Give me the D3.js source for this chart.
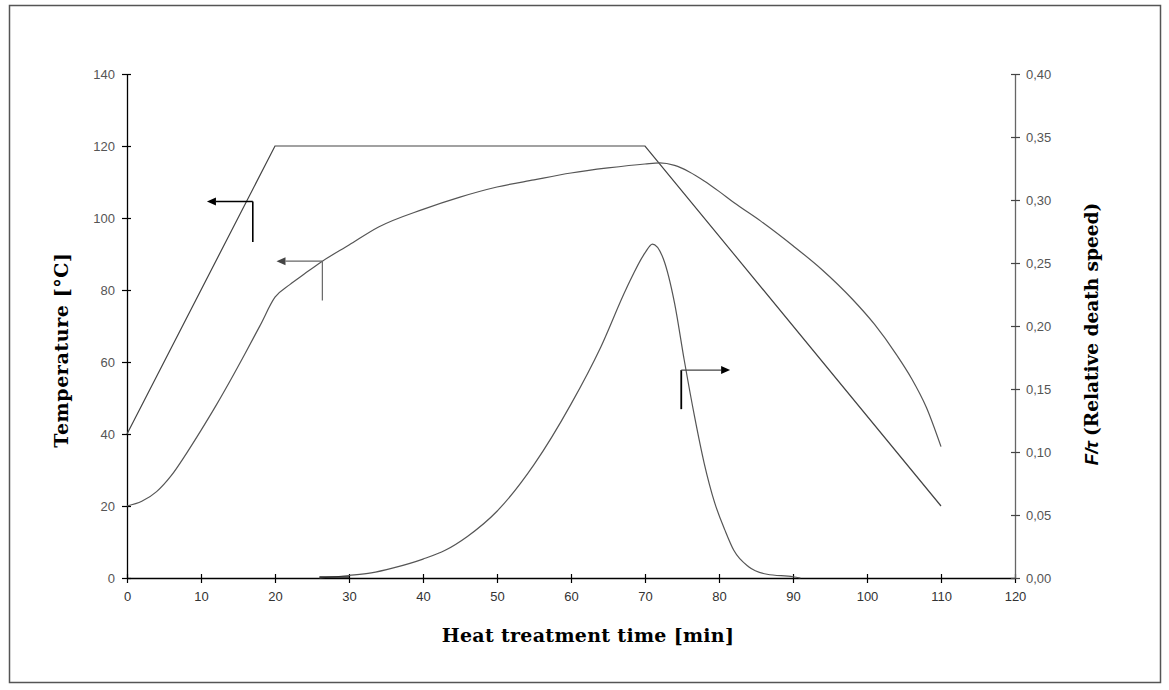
<!DOCTYPE html>
<html>
<head>
<meta charset="utf-8">
<script src="https://cdn.jsdelivr.net/npm/d3@7"></script>
<style>
  html, body { margin: 0; padding: 0; background: #fff; }
  svg { display: block; }
</style>
</head>
<body>
<svg id="chart" width="1169" height="690"></svg>
<script>
// ---- Data ----
const xTicks = [0, 10, 20, 30, 40, 50, 60, 70, 80, 90, 100, 110, 120];
const yLeftTicks = [0, 20, 40, 60, 80, 100, 120, 140];
const yRightTicks = [0, 0.05, 0.10, 0.15, 0.20, 0.25, 0.30, 0.35, 0.40];

// Retort (heating medium) temperature [°C]
const retortTime = [0, 20, 70, 110];
const retortTemp = [40, 120, 120, 20];

// Product temperature [°C]
const productTime = [0, 2, 4, 6, 8, 10, 12, 14, 16, 18, 20, 22, 24, 26.4, 30, 34, 40, 45, 50, 55, 60, 65, 70, 72, 74, 76, 78, 80, 82, 85.6, 90, 94, 98, 101, 104, 106, 108, 110];
const productTemp = [20, 21.3, 24, 28.5, 34.5, 41, 47.8, 55, 62.5, 70.2, 78, 81.5, 84.5, 88, 92.5, 97.5, 102.4, 105.8, 108.6, 110.6, 112.5, 113.9, 115, 115.3, 114.6, 112.8, 110.3, 107.4, 104.3, 99.2, 92.3, 85.5, 77.5, 70.5, 62, 55.5, 47.5, 36.5];

// F/tau (relative death speed)
const deathTime = [26, 30, 33, 36, 40, 43, 46, 50, 55, 60, 64, 67.5, 70, 71, 72.5, 74, 75.3, 76.7, 78, 79.4, 80.8, 82, 84, 86.5, 90, 91];
const deathRate = [0, 0.002, 0.004, 0.008, 0.015, 0.022, 0.033, 0.053, 0.090, 0.138, 0.183, 0.230, 0.258, 0.265, 0.253, 0.218, 0.173, 0.128, 0.091, 0.060, 0.038, 0.022, 0.009, 0.003, 0.001, 0];

// Annotation arrows
const arrowLeft1 = { axis: "left", x: 17.0, yTop: 104.6, yBottom: 93.3, tipX: 10.8, color: "#000", width: 1.6 };
const arrowLeft2 = { axis: "left", x: 26.4, yTop: 88, yBottom: 77.1, tipX: 20.2, color: "#666", width: 1.2 };
const arrowRight = { axis: "right", x: 74.9, yTop: 0.165, yBottom: 0.134, tipX: 81.5, color: "#444", width: 1.2, stemColor: "#000", stemWidth: 1.8 };

(function () {
const svg = d3.select("#chart");
const pL = 127, pR = 1015, pT = 74, pB = 578;

const x = d3.scaleLinear().domain([0, 120]).range([pL, pR]);
const yL = d3.scaleLinear().domain([0, 140]).range([pB, pT]);
const yR = d3.scaleLinear().domain([0, 0.40]).range([pB, pT]);

// outer frame
svg.append("rect")
  .attr("x", 9.5).attr("y", 5.5)
  .attr("width", 1151).attr("height", 677)
  .attr("fill", "none").attr("stroke", "#555").attr("stroke-width", 1.5);

const tickFont = "'Liberation Sans', Arial, sans-serif";

// ---- Axes ----
const gx = svg.append("g").attr("transform", `translate(0,${pB})`)
  .call(d3.axisBottom(x).tickValues(xTicks).tickSize(5).tickSizeOuter(0).tickPadding(9));
gx.select(".domain").attr("stroke", "#000").attr("stroke-width", 1.3);
gx.selectAll(".tick line").attr("y1", -4).attr("y2", 5).attr("stroke", "#000").attr("stroke-width", 1.2);
gx.selectAll(".tick text").attr("font-family", tickFont).attr("font-size", 13).attr("fill", "#333");

const gl = svg.append("g").attr("transform", `translate(${pL},0)`)
  .call(d3.axisLeft(yL).tickValues(yLeftTicks).tickSize(5).tickSizeOuter(0).tickPadding(7));
gl.select(".domain").attr("stroke", "#000").attr("stroke-width", 1.3);
gl.selectAll(".tick line").attr("x1", 4).attr("x2", -5).attr("stroke", "#000").attr("stroke-width", 1.2);
gl.selectAll(".tick text").attr("font-family", tickFont).attr("font-size", 13).attr("fill", "#555");

const commaFmt = d => d3.format(".2f")(d).replace(".", ",");
const gr = svg.append("g").attr("transform", `translate(${pR},0)`)
  .call(d3.axisRight(yR).tickValues(yRightTicks).tickFormat(commaFmt).tickSize(5).tickSizeOuter(0).tickPadding(6));
gr.select(".domain").attr("stroke", "#666").attr("stroke-width", 1.3);
gr.selectAll(".tick line").attr("x1", -4).attr("x2", 5).attr("stroke", "#444").attr("stroke-width", 1.2);
gr.selectAll(".tick text").attr("font-family", tickFont).attr("font-size", 13).attr("fill", "#555");

// ---- Lines ----
const retortLine = d3.line().x(d => x(d[0])).y(d => yL(d[1]));
svg.append("path")
  .datum(retortTime.map((t, i) => [t, retortTemp[i]]))
  .attr("d", retortLine)
  .attr("fill", "none").attr("stroke", "#444").attr("stroke-width", 1.2);

const productLine = d3.line().x(d => x(d[0])).y(d => yL(d[1])).curve(d3.curveMonotoneX);
svg.append("path")
  .datum(productTime.map((t, i) => [t, productTemp[i]]))
  .attr("d", productLine)
  .attr("fill", "none").attr("stroke", "#555").attr("stroke-width", 1.2);

const deathLine = d3.line().x(d => x(d[0])).y(d => yR(d[1])).curve(d3.curveMonotoneX);
svg.append("path")
  .datum(deathTime.map((t, i) => [t, deathRate[i]]))
  .attr("d", deathLine)
  .attr("fill", "none").attr("stroke", "#555").attr("stroke-width", 1.2);
svg.append("line")
  .attr("x1", x(deathTime[0])).attr("x2", x(deathTime[1]))
  .attr("y1", yR(0) - 1).attr("y2", yR(0) - 1)
  .attr("stroke", "#222").attr("stroke-width", 1.5);

// ---- Arrows ----
function drawArrow(a) {
  const ys = a.axis === "left" ? yL : yR;
  const sx = x(a.x), y1 = ys(a.yTop), y2 = ys(a.yBottom), tx = x(a.tipX);
  svg.append("line").attr("x1", sx).attr("x2", sx).attr("y1", y1).attr("y2", y2)
    .attr("stroke", a.stemColor || a.color).attr("stroke-width", a.stemWidth || a.width);
  const dir = tx < sx ? -1 : 1;
  const headLen = 9, headHalf = 4;
  svg.append("line").attr("x1", sx).attr("x2", tx - dir * headLen).attr("y1", y1).attr("y2", y1)
    .attr("stroke", a.color).attr("stroke-width", a.width);
  svg.append("path")
    .attr("d", `M${tx},${y1} L${tx - dir * headLen},${y1 - headHalf} L${tx - dir * headLen},${y1 + headHalf} Z`)
    .attr("fill", a.color === "#666" ? "#444" : "#000");
}
drawArrow(arrowLeft1);
drawArrow(arrowLeft2);
drawArrow(arrowRight);

// ---- Axis titles ----
const titleFont = "'DejaVu Serif', 'Liberation Serif', serif";
svg.append("text")
  .attr("transform", `translate(68,350) rotate(-90)`)
  .attr("text-anchor", "middle")
  .attr("font-family", titleFont).attr("font-weight", "bold").attr("font-size", 19)
  .attr("letter-spacing", 0.6)
  .attr("fill", "#000")
  .text("Temperature [°C]");

svg.append("text")
  .attr("x", 588).attr("y", 642)
  .attr("text-anchor", "middle")
  .attr("font-family", titleFont).attr("font-weight", "bold").attr("font-size", 19)
  .attr("letter-spacing", 0.3)
  .attr("fill", "#000")
  .text("Heat treatment time [min]");

const rt = svg.append("text")
  .attr("transform", `translate(1098,334) rotate(-90)`)
  .attr("text-anchor", "middle")
  .attr("font-weight", "bold").attr("font-size", 18.5)
  .attr("fill", "#000");
rt.append("tspan").attr("font-family", "'Liberation Sans', Arial, sans-serif").attr("font-style", "italic").text("F/τ ");
rt.append("tspan").attr("font-family", titleFont).text("(Relative death speed)");
})();
</script>
</body>
</html>
